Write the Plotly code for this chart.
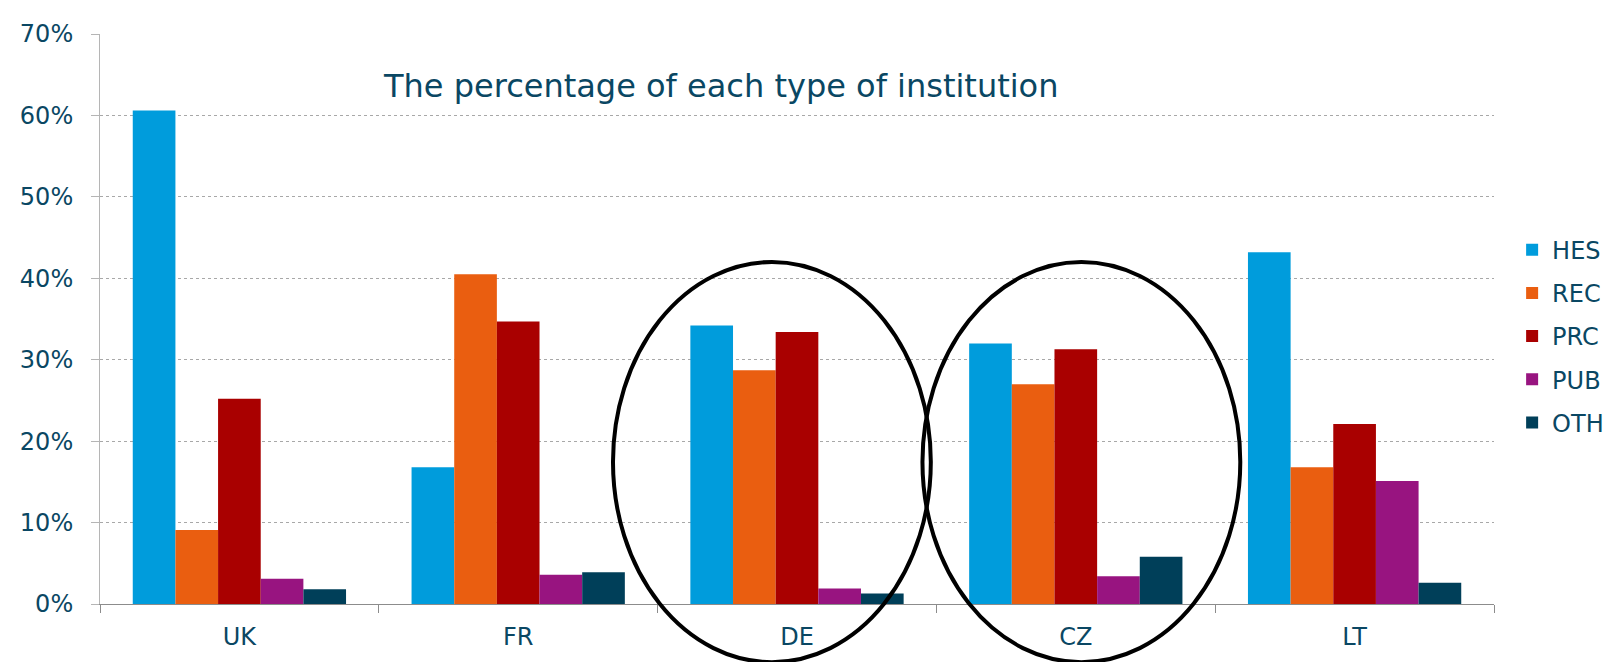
import plotly.graph_objects as go

countries = ["UK", "FR", "DE", "CZ", "LT"]
series_names = ["HES", "REC", "PRC", "PUB", "OTH"]
hes = [60.6, 16.8, 34.2, 32.0, 43.2]
rec = [9.1, 40.5, 28.7, 27.0, 16.8]
prc = [25.2, 34.7, 33.4, 31.3, 22.1]
pub = [3.1, 3.6, 1.9, 3.4, 15.1]
oth = [1.8, 3.9, 1.3, 5.8, 2.6]
y_ticks = [0, 10, 20, 30, 40, 50, 60, 70]
y_tick_labels = ["0%", "10%", "20%", "30%", "40%", "50%", "60%", "70%"]
title_text = "The percentage of each type of institution"

colors = ["#009CDC", "#EA5E10", "#A90000", "#981480", "#003F59"]
text_color = "#0A4763"
font_family = "DejaVu Sans, Verdana, sans-serif"

fig = go.Figure()
for name, vals, col in zip(series_names, [hes, rec, prc, pub, oth], colors):
    fig.add_trace(go.Bar(
        name=name, x=countries, y=vals, marker_color=col,
        marker_line_width=0, legendgroup=name,
    ))

fig.update_layout(
    width=1613, height=662,
    margin=dict(l=90, r=119, t=18, b=66),
    paper_bgcolor="white", plot_bgcolor="white",
    barmode="group", bargap=0.235, bargroupgap=0,
    font=dict(family=font_family, color=text_color, size=24),
    showlegend=True,
    legend=dict(
        x=1.013, y=0.47, xanchor="left", yanchor="middle",
        font=dict(size=24, color=text_color),
        tracegroupgap=9, bgcolor="rgba(0,0,0,0)",
    ),
    xaxis=dict(
        showline=True, linecolor="#8C8C8C", linewidth=1,
        ticks="outside", tickson="boundaries", ticklen=8, tickcolor="#8C8C8C",
        tickfont=dict(size=24, color=text_color), showgrid=False,
        ticklabelstandoff=11,
    ),
    yaxis=dict(
        range=[0, 70], tickvals=y_ticks, ticktext=y_tick_labels,
        showline=True, linecolor="#B5B5B5", linewidth=1,
        ticks="outside", ticklen=8, tickcolor="#B5B5B5",
        showgrid=True, gridcolor="#A8A8A8", gridwidth=1, griddash="dot",
        tickfont=dict(size=24, color=text_color), zeroline=False,
        ticklabelstandoff=13,
    ),
    annotations=[dict(
        text=title_text, xref="paper", yref="paper", x=0.445, y=0.909,
        xanchor="center", yanchor="middle", showarrow=False,
        font=dict(size=32, color=text_color, family=font_family),
    )],
    shapes=[
        dict(type="circle", xref="paper", yref="paper",
             x0=0.368, x1=0.596, y0=-0.102, y1=0.600,
             line=dict(color="black", width=4)),
        dict(type="circle", xref="paper", yref="paper",
             x0=0.590, x1=0.818, y0=-0.102, y1=0.600,
             line=dict(color="black", width=4)),
    ],
)

fig.write_html("out.html")
